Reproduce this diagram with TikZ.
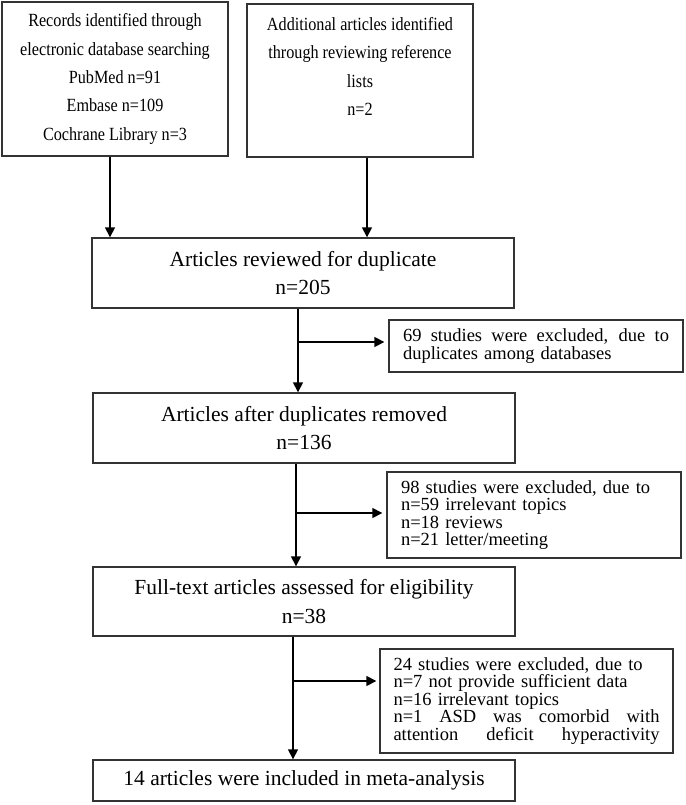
\documentclass[tikz,border=0pt]{standalone}
\usepackage{fontspec}
\setmainfont{Liberation Serif}
\newfontfamily\narrowserif{Liberation Serif}[FakeStretch=0.87]
\usetikzlibrary{arrows.meta}
\newcommand{\fullline}[1]{{\spaceskip=0.25em plus 3em\xspaceskip=0.3em plus 3em\makebox[266pt][s]{#1}}}
\tikzset{
    box/.style={draw=black!80, line width=1.4pt, inner sep=0pt, align=center},
    srcbox/.style={box, minimum width=226pt, minimum height=154pt,
        font=\narrowserif\fontsize{18.6}{28.4}\selectfont},
    mainbox/.style={box, minimum width=422pt, font=\fontsize{21.5}{28.5}\selectfont},
    exbox/.style={box, minimum width=294pt, text width=266pt, align=left,
        font=\fontsize{18.5}{17.5}\selectfont},
    arr/.style={line width=1.6pt, -{Triangle[length=10pt,width=10pt]}},
}

\begin{document}
\begin{tikzpicture}[x=1pt, y=-1pt]
    \useasboundingbox (0,0) rectangle (685,805);
    \node[srcbox] (rec) at (115, 79) {Records identified through\\electronic database searching\\PubMed n=91\\Embase n=109\\Cochrane Library n=3};
    \node[srcbox, minimum height=153pt] (add) at (360, 80.5) {Additional articles identified\\through reviewing reference\\lists\\n=2\\\mbox{}};
    \node[mainbox, minimum height=70pt] (dup) at (303, 273) {Articles reviewed for duplicate\\n=205};
    \node[mainbox, minimum height=70pt] (rem) at (304, 428) {Articles after duplicates removed\\n=136};
    \node[mainbox, minimum height=69pt] (full) at (304, 601.5) {Full-text articles assessed for eligibility\\n=38};
    \node[mainbox, minimum height=41pt] (incl) at (304, 780.5) {14 articles were included in meta-analysis};
    \node[exbox, minimum height=52pt] (ex1) at (536, 346) {\fullline{69 studies were excluded, due to}\\duplicates among databases};
    \node[exbox, minimum height=86pt] (ex2) at (534, 515) {98 studies were excluded, due to\\n=59 irrelevant topics\\n=18 reviews\\n=21 letter/meeting};
    \node[exbox, minimum width=293pt, minimum height=104pt] (ex3) at (526.5, 701) {24 studies were excluded, due to\\n=7 not provide sufficient data\\n=16 irrelevant topics\\\fullline{n=1 ASD was comorbid with}\\\fullline{attention deficit hyperactivity}};

    \coordinate (t1) at ([xshift=-5pt]rec.south);
    \coordinate (t2) at ([xshift=7pt]add.south);
    \coordinate (t3) at ([xshift=-5pt]dup.south);
    \coordinate (t4) at ([xshift=-8pt]rem.south);
    \coordinate (t5) at ([xshift=-11pt]full.south);
    \coordinate (e1) at ([yshift=4pt]ex1.west);
    \coordinate (e2) at ([yshift=2pt]ex2.west);
    \coordinate (e3) at ([yshift=20pt]ex3.west);

    \draw[arr] (t1) -- (t1 |- dup.north);
    \draw[arr] (t2) -- (t2 |- dup.north);
    \draw[arr] (t3) -- (t3 |- rem.north);
    \draw[arr] (t4) -- (t4 |- full.north);
    \draw[arr] (t5) -- (t5 |- incl.north);
    \draw[arr, shorten >=4pt] (t3 |- e1) -- (e1);
    \draw[arr, shorten >=4pt] (t4 |- e2) -- (e2);
    \draw[arr, shorten >=3pt] (t5 |- e3) -- (e3);
\end{tikzpicture}
\end{document}
